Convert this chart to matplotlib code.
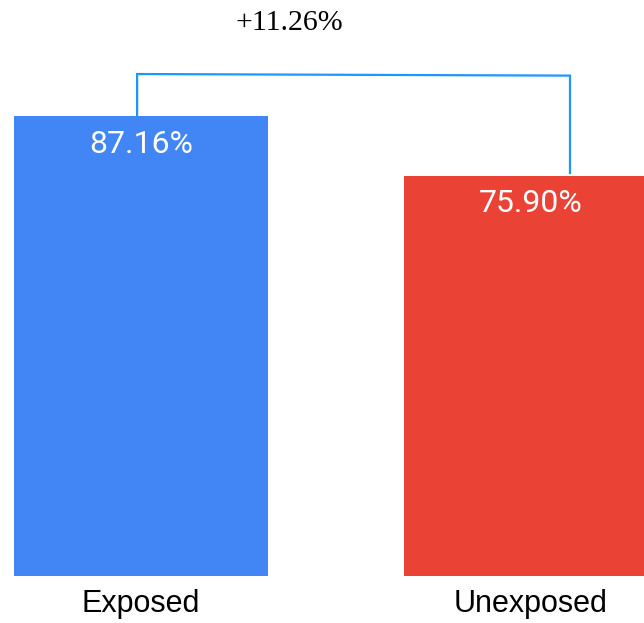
import matplotlib.pyplot as plt

categories = ["Exposed", "Unexposed"]
values = [87.16, 75.90]
bar_colors = ["#4285F4", "#EA4335"]
diff_label = "+{:.2f}%".format(values[0] - values[1])

W, H = 644, 623
fig = plt.figure(figsize=(W / 100, H / 100), dpi=100)
ax = fig.add_axes([0, 0, 1, 1])

# pixel layout of the reference: bar 0 centered at x=141, 390 px between bars,
# zero line at y=576 px from top, ~5.275 px per percent
unit_x = 390.0
unit_y = 5.275
ax.set_xlim(-141 / unit_x, (W - 141) / unit_x)
ax.set_ylim(-(H - 576) / unit_y, 576 / unit_y)
ax.axis("off")

pos = list(range(len(categories)))
ax.bar(pos, values, width=254 / unit_x, color=bar_colors, linewidth=0)

for x, v in zip(pos, values):
    ax.annotate(f"{v:.2f}%", (x, v), xytext=(0, -20), textcoords="offset points",
                ha="center", va="center", color="white", fontsize=23,
                family="Roboto")

for x, name in zip(pos, categories):
    ax.text(x, -5.3, name, ha="center", va="center", fontsize=22,
            family="Liberation Sans", color="black")

# bracket between the two bars
top = max(values) + 8
x_left = pos[0] - 0.01
x_right = pos[1] + 0.1
ax.plot([x_left, x_left, x_right, x_right],
        [values[0], top, top - 0.3, values[1] + 0.5],
        color="#1E96FF", linewidth=1.6, solid_joinstyle="miter")

ax.text(0.38, 104.8, diff_label, ha="center", va="center", fontsize=21.5,
        family="Liberation Serif", color="black")

fig.savefig("out.png", dpi=100)
